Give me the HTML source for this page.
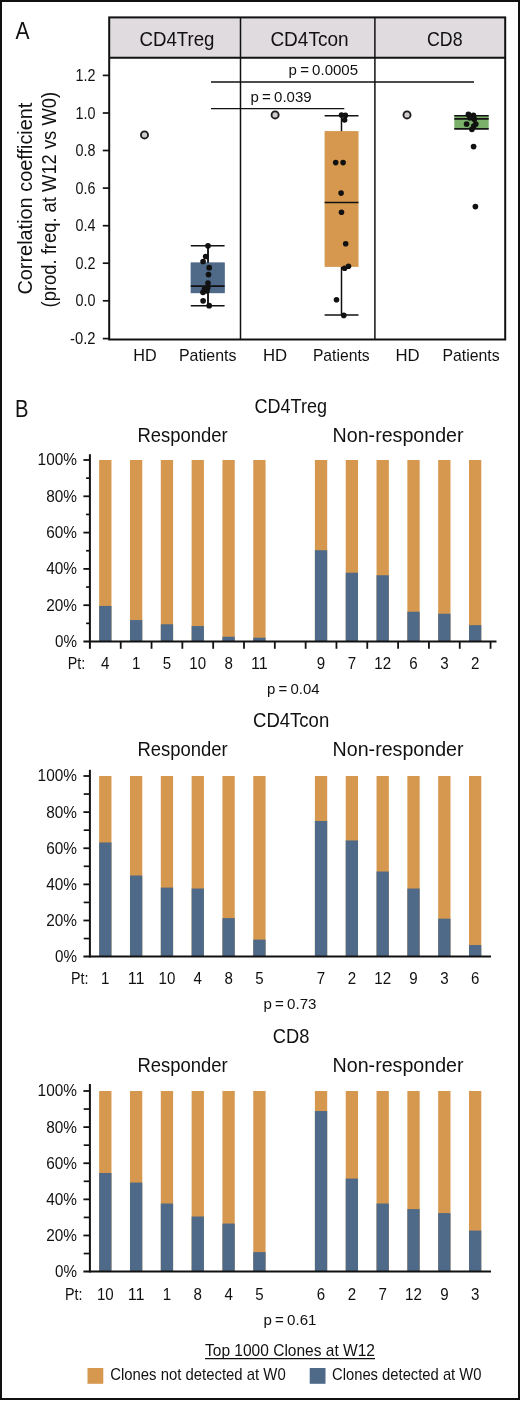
<!DOCTYPE html>
<html><head><meta charset="utf-8"><title>Figure</title>
<style>
html,body{margin:0;padding:0;background:#fff;}
svg{display:block;will-change:transform;}
text{font-family:"Liberation Sans",sans-serif;fill:#111111;}
</style></head><body>
<svg width="520" height="1401" viewBox="0 0 520 1401">
<rect x="0" y="0" width="520" height="1401" fill="#ffffff"/>
<rect x="1" y="1" width="518" height="1398" fill="none" stroke="#111111" stroke-width="2"/>
<text x="15.5" y="39" font-size="24" text-anchor="start" textLength="14" lengthAdjust="spacingAndGlyphs" >A</text>
<rect x="109.2" y="17.4" width="396" height="40.4" fill="#dfdbdf" />
<rect x="109.2" y="17.4" width="396" height="322.1" fill="none" stroke="#111111" stroke-width="2"/>
<line x1="109.2" y1="57.8" x2="505.2" y2="57.8" stroke="#111111" stroke-width="2" />
<line x1="240.5" y1="17.4" x2="240.5" y2="339.5" stroke="#111111" stroke-width="1.5" />
<line x1="374.9" y1="17.4" x2="374.9" y2="339.5" stroke="#111111" stroke-width="1.5" />
<text x="139.5" y="46.2" font-size="20.4" text-anchor="start" textLength="75" lengthAdjust="spacingAndGlyphs" >CD4Treg</text>
<text x="270.4" y="46.2" font-size="20.4" text-anchor="start" textLength="78.2" lengthAdjust="spacingAndGlyphs" >CD4Tcon</text>
<text x="427" y="46.2" font-size="20.4" text-anchor="start" textLength="35.5" lengthAdjust="spacingAndGlyphs" >CD8</text>
<line x1="102.8" y1="75.4" x2="109.2" y2="75.4" stroke="#111111" stroke-width="1.7" />
<text x="75.6" y="80.9" font-size="16.4" text-anchor="start" textLength="20" lengthAdjust="spacingAndGlyphs" >1.2</text>
<line x1="102.8" y1="113.0" x2="109.2" y2="113.0" stroke="#111111" stroke-width="1.7" />
<text x="75.6" y="118.5" font-size="16.4" text-anchor="start" textLength="20" lengthAdjust="spacingAndGlyphs" >1.0</text>
<line x1="102.8" y1="150.5" x2="109.2" y2="150.5" stroke="#111111" stroke-width="1.7" />
<text x="75.6" y="156.0" font-size="16.4" text-anchor="start" textLength="20" lengthAdjust="spacingAndGlyphs" >0.8</text>
<line x1="102.8" y1="188.1" x2="109.2" y2="188.1" stroke="#111111" stroke-width="1.7" />
<text x="75.6" y="193.6" font-size="16.4" text-anchor="start" textLength="20" lengthAdjust="spacingAndGlyphs" >0.6</text>
<line x1="102.8" y1="225.7" x2="109.2" y2="225.7" stroke="#111111" stroke-width="1.7" />
<text x="75.6" y="231.2" font-size="16.4" text-anchor="start" textLength="20" lengthAdjust="spacingAndGlyphs" >0.4</text>
<line x1="102.8" y1="263.2" x2="109.2" y2="263.2" stroke="#111111" stroke-width="1.7" />
<text x="75.6" y="268.7" font-size="16.4" text-anchor="start" textLength="20" lengthAdjust="spacingAndGlyphs" >0.2</text>
<line x1="102.8" y1="300.8" x2="109.2" y2="300.8" stroke="#111111" stroke-width="1.7" />
<text x="75.6" y="306.3" font-size="16.4" text-anchor="start" textLength="20" lengthAdjust="spacingAndGlyphs" >0.0</text>
<line x1="102.8" y1="338.6" x2="109.2" y2="338.6" stroke="#111111" stroke-width="1.7" />
<text x="70.1" y="344.1" font-size="16.4" text-anchor="start" textLength="25.5" lengthAdjust="spacingAndGlyphs" >-0.2</text>
<text transform="translate(32.4,294.6) rotate(-90)" font-size="20.3" textLength="192" lengthAdjust="spacingAndGlyphs">Correlation coefficient</text>
<text transform="translate(56.1,307.4) rotate(-90)" font-size="20.3" textLength="215.5" lengthAdjust="spacingAndGlyphs">(prod. freq. at W12 vs W0)</text>
<text x="133.2" y="360.7" font-size="16.4" text-anchor="start" textLength="23.4" lengthAdjust="spacingAndGlyphs" >HD</text>
<text x="178.9" y="360.7" font-size="16.4" text-anchor="start" textLength="57.6" lengthAdjust="spacingAndGlyphs" >Patients</text>
<text x="262.9" y="360.7" font-size="16.4" text-anchor="start" textLength="24.2" lengthAdjust="spacingAndGlyphs" >HD</text>
<text x="312.9" y="360.7" font-size="16.4" text-anchor="start" textLength="56.7" lengthAdjust="spacingAndGlyphs" >Patients</text>
<text x="395.4" y="360.7" font-size="16.4" text-anchor="start" textLength="24.2" lengthAdjust="spacingAndGlyphs" >HD</text>
<text x="442.4" y="360.7" font-size="16.4" text-anchor="start" textLength="57.2" lengthAdjust="spacingAndGlyphs" >Patients</text>
<line x1="211" y1="82" x2="474" y2="82" stroke="#111111" stroke-width="1.3" />
<line x1="211" y1="108.7" x2="344.3" y2="108.7" stroke="#111111" stroke-width="1.3" />
<text x="288.6" y="75.2" font-size="15.2" text-anchor="start" textLength="69.5" lengthAdjust="spacingAndGlyphs" word-spacing="-1">p = 0.0005</text>
<text x="250.6" y="101.7" font-size="15.2" text-anchor="start" textLength="61" lengthAdjust="spacingAndGlyphs" word-spacing="-1">p = 0.039</text>
<circle cx="144.5" cy="134.9" r="3.55" fill="#cfcbcf" stroke="#1c1c1c" stroke-width="1.85"/>
<circle cx="275.1" cy="114.9" r="3.55" fill="#cfcbcf" stroke="#1c1c1c" stroke-width="1.85"/>
<circle cx="407" cy="114.9" r="3.55" fill="#cfcbcf" stroke="#1c1c1c" stroke-width="1.85"/>
<rect x="190.8" y="262.6" width="33.8" height="30.5" fill="#4e6a88" />
<line x1="208" y1="245.8" x2="208" y2="305.7" stroke="#111111" stroke-width="1.5" />
<line x1="190.8" y1="245.8" x2="224.6" y2="245.8" stroke="#111111" stroke-width="1.5" />
<line x1="190.8" y1="305.7" x2="224.6" y2="305.7" stroke="#111111" stroke-width="1.5" />
<rect x="190.8" y="262.6" width="33.8" height="30.5" fill="#4e6a88" />
<line x1="208" y1="245.8" x2="208" y2="262.6" stroke="#111111" stroke-width="1.5" />
<line x1="208" y1="293.1" x2="208" y2="305.7" stroke="#111111" stroke-width="1.5" />
<line x1="190.8" y1="286.2" x2="224.6" y2="286.2" stroke="#111111" stroke-width="1.8" />
<circle cx="208" cy="245.8" r="2.85" fill="#111111" />
<circle cx="205.7" cy="256.5" r="2.85" fill="#111111" />
<circle cx="203.1" cy="261.5" r="2.85" fill="#111111" />
<circle cx="209.2" cy="267.7" r="2.85" fill="#111111" />
<circle cx="208.5" cy="274.6" r="2.85" fill="#111111" />
<circle cx="208" cy="283.1" r="2.85" fill="#111111" />
<circle cx="207.7" cy="287.7" r="2.85" fill="#111111" />
<circle cx="204.6" cy="289.2" r="2.85" fill="#111111" />
<circle cx="203" cy="292.3" r="2.85" fill="#111111" />
<circle cx="207" cy="290.8" r="2.85" fill="#111111" />
<circle cx="203.1" cy="300.8" r="2.85" fill="#111111" />
<circle cx="209.2" cy="305.7" r="2.85" fill="#111111" />
<line x1="341.5" y1="115.8" x2="341.5" y2="315.1" stroke="#111111" stroke-width="1.5" />
<line x1="324.6" y1="115.8" x2="358.5" y2="115.8" stroke="#111111" stroke-width="1.5" />
<line x1="324.6" y1="315.1" x2="358.5" y2="315.1" stroke="#111111" stroke-width="1.5" />
<rect x="324.6" y="131.1" width="33.9" height="135.8" fill="#d6984f" />
<line x1="324.6" y1="202.6" x2="358.5" y2="202.6" stroke="#111111" stroke-width="1.5" />
<circle cx="341.5" cy="115.1" r="2.8" fill="#111111" />
<circle cx="345.4" cy="115.4" r="2.8" fill="#111111" />
<circle cx="344.6" cy="120" r="2.8" fill="#111111" />
<circle cx="335.7" cy="162.6" r="2.8" fill="#111111" />
<circle cx="343.1" cy="162.6" r="2.8" fill="#111111" />
<circle cx="341.1" cy="193.1" r="2.8" fill="#111111" />
<circle cx="341.5" cy="212.3" r="2.8" fill="#111111" />
<circle cx="345.7" cy="243.8" r="2.8" fill="#111111" />
<circle cx="344.6" cy="268.2" r="2.8" fill="#111111" />
<circle cx="348.5" cy="266.2" r="2.8" fill="#111111" />
<circle cx="336.5" cy="299.7" r="2.8" fill="#111111" />
<circle cx="343.8" cy="315.4" r="2.8" fill="#111111" />
<rect x="454.3" y="115.4" width="34.4" height="13.6" fill="#7ab06a" />
<line x1="454.3" y1="115.8" x2="488.7" y2="115.8" stroke="#111111" stroke-width="1.6" />
<line x1="454.3" y1="118.9" x2="488.7" y2="118.9" stroke="#111111" stroke-width="1.6" />
<line x1="454.3" y1="128.9" x2="488.7" y2="128.9" stroke="#111111" stroke-width="1.6" />
<circle cx="468.4" cy="114.4" r="2.85" fill="#111111" />
<circle cx="473.4" cy="115.4" r="2.85" fill="#111111" />
<circle cx="470" cy="117.8" r="2.85" fill="#111111" />
<circle cx="474.3" cy="119.2" r="2.85" fill="#111111" />
<circle cx="466.6" cy="124" r="2.85" fill="#111111" />
<circle cx="475.8" cy="124" r="2.85" fill="#111111" />
<circle cx="473.8" cy="126" r="2.85" fill="#111111" />
<circle cx="471.9" cy="129.3" r="2.85" fill="#111111" />
<circle cx="473.6" cy="146.6" r="2.85" fill="#111111" />
<circle cx="475.4" cy="206.6" r="2.85" fill="#111111" />
<text x="15" y="416.8" font-size="24" text-anchor="start" textLength="13.5" lengthAdjust="spacingAndGlyphs" >B</text>
<text x="254.6" y="412.7" font-size="20.2" text-anchor="start" textLength="72.4" lengthAdjust="spacingAndGlyphs" >CD4Treg</text>
<text x="137.4" y="442.4" font-size="20.2" text-anchor="start" textLength="90.3" lengthAdjust="spacingAndGlyphs" >Responder</text>
<text x="332.6" y="442.4" font-size="20.2" text-anchor="start" textLength="131" lengthAdjust="spacingAndGlyphs" >Non-responder</text>
<rect x="99.16" y="460" width="12.3" height="181.5" fill="#d6984f" />
<rect x="99.16" y="605.93" width="12.3" height="35.57" fill="#4e6a88" />
<text x="101.11" y="669.2" font-size="16.4" text-anchor="start" textLength="8.4" lengthAdjust="spacingAndGlyphs" >4</text>
<rect x="129.98" y="460" width="12.3" height="181.5" fill="#d6984f" />
<rect x="129.98" y="620.08" width="12.3" height="21.42" fill="#4e6a88" />
<text x="131.93" y="669.2" font-size="16.4" text-anchor="start" textLength="8.4" lengthAdjust="spacingAndGlyphs" >1</text>
<rect x="160.8" y="460" width="12.3" height="181.5" fill="#d6984f" />
<rect x="160.8" y="624.26" width="12.3" height="17.24" fill="#4e6a88" />
<text x="162.75" y="669.2" font-size="16.4" text-anchor="start" textLength="8.4" lengthAdjust="spacingAndGlyphs" >5</text>
<rect x="191.62" y="460" width="12.3" height="181.5" fill="#d6984f" />
<rect x="191.62" y="626.07" width="12.3" height="15.43" fill="#4e6a88" />
<text x="189.37" y="669.2" font-size="16.4" text-anchor="start" textLength="16.8" lengthAdjust="spacingAndGlyphs" >10</text>
<rect x="222.44" y="460" width="12.3" height="181.5" fill="#d6984f" />
<rect x="222.44" y="636.78" width="12.3" height="4.72" fill="#4e6a88" />
<text x="224.39" y="669.2" font-size="16.4" text-anchor="start" textLength="8.4" lengthAdjust="spacingAndGlyphs" >8</text>
<rect x="253.26" y="460" width="12.3" height="181.5" fill="#d6984f" />
<rect x="253.26" y="637.69" width="12.3" height="3.81" fill="#4e6a88" />
<text x="251.01" y="669.2" font-size="16.4" text-anchor="start" textLength="16.8" lengthAdjust="spacingAndGlyphs" >11</text>
<rect x="314.9" y="460" width="12.3" height="181.5" fill="#d6984f" />
<rect x="314.9" y="550.21" width="12.3" height="91.29" fill="#4e6a88" />
<text x="316.85" y="669.2" font-size="16.4" text-anchor="start" textLength="8.4" lengthAdjust="spacingAndGlyphs" >9</text>
<rect x="345.72" y="460" width="12.3" height="181.5" fill="#d6984f" />
<rect x="345.72" y="572.71" width="12.3" height="68.79" fill="#4e6a88" />
<text x="347.67" y="669.2" font-size="16.4" text-anchor="start" textLength="8.4" lengthAdjust="spacingAndGlyphs" >7</text>
<rect x="376.54" y="460" width="12.3" height="181.5" fill="#d6984f" />
<rect x="376.54" y="575.25" width="12.3" height="66.25" fill="#4e6a88" />
<text x="374.29" y="669.2" font-size="16.4" text-anchor="start" textLength="16.8" lengthAdjust="spacingAndGlyphs" >12</text>
<rect x="407.36" y="460" width="12.3" height="181.5" fill="#d6984f" />
<rect x="407.36" y="611.73" width="12.3" height="29.77" fill="#4e6a88" />
<text x="409.31" y="669.2" font-size="16.4" text-anchor="start" textLength="8.4" lengthAdjust="spacingAndGlyphs" >6</text>
<rect x="438.18" y="460" width="12.3" height="181.5" fill="#d6984f" />
<rect x="438.18" y="613.73" width="12.3" height="27.77" fill="#4e6a88" />
<text x="440.13" y="669.2" font-size="16.4" text-anchor="start" textLength="8.4" lengthAdjust="spacingAndGlyphs" >3</text>
<rect x="469.0" y="460" width="12.3" height="181.5" fill="#d6984f" />
<rect x="469.0" y="625.16" width="12.3" height="16.34" fill="#4e6a88" />
<text x="470.95" y="669.2" font-size="16.4" text-anchor="start" textLength="8.4" lengthAdjust="spacingAndGlyphs" >2</text>
<line x1="89.9" y1="454.2" x2="89.9" y2="648.8" stroke="#111111" stroke-width="2.0" />
<line x1="83.4" y1="641.5" x2="496.5" y2="641.5" stroke="#111111" stroke-width="2.0" />
<line x1="86.10000000000001" y1="623.35" x2="89.9" y2="623.35" stroke="#111111" stroke-width="1.7" />
<line x1="83.4" y1="605.2" x2="89.9" y2="605.2" stroke="#111111" stroke-width="1.8" />
<line x1="86.10000000000001" y1="587.05" x2="89.9" y2="587.05" stroke="#111111" stroke-width="1.7" />
<line x1="83.4" y1="568.9" x2="89.9" y2="568.9" stroke="#111111" stroke-width="1.8" />
<line x1="86.10000000000001" y1="550.75" x2="89.9" y2="550.75" stroke="#111111" stroke-width="1.7" />
<line x1="83.4" y1="532.6" x2="89.9" y2="532.6" stroke="#111111" stroke-width="1.8" />
<line x1="86.10000000000001" y1="514.45" x2="89.9" y2="514.45" stroke="#111111" stroke-width="1.7" />
<line x1="83.4" y1="496.3" x2="89.9" y2="496.3" stroke="#111111" stroke-width="1.8" />
<line x1="86.10000000000001" y1="478.15" x2="89.9" y2="478.15" stroke="#111111" stroke-width="1.7" />
<line x1="83.4" y1="460.0" x2="89.9" y2="460.0" stroke="#111111" stroke-width="1.8" />
<text x="55" y="646.9" font-size="16.4" text-anchor="start" textLength="22" lengthAdjust="spacingAndGlyphs" >0%</text>
<text x="46.2" y="610.6" font-size="16.4" text-anchor="start" textLength="30.8" lengthAdjust="spacingAndGlyphs" >20%</text>
<text x="46.2" y="574.3" font-size="16.4" text-anchor="start" textLength="30.8" lengthAdjust="spacingAndGlyphs" >40%</text>
<text x="46.2" y="538.0" font-size="16.4" text-anchor="start" textLength="30.8" lengthAdjust="spacingAndGlyphs" >60%</text>
<text x="46.2" y="501.7" font-size="16.4" text-anchor="start" textLength="30.8" lengthAdjust="spacingAndGlyphs" >80%</text>
<text x="37.6" y="465.4" font-size="16.4" text-anchor="start" textLength="39.4" lengthAdjust="spacingAndGlyphs" >100%</text>
<line x1="120.72" y1="641.5" x2="120.72" y2="648.8" stroke="#111111" stroke-width="1.8" />
<line x1="151.54" y1="641.5" x2="151.54" y2="648.8" stroke="#111111" stroke-width="1.8" />
<line x1="182.36" y1="641.5" x2="182.36" y2="648.8" stroke="#111111" stroke-width="1.8" />
<line x1="213.18" y1="641.5" x2="213.18" y2="648.8" stroke="#111111" stroke-width="1.8" />
<line x1="244.0" y1="641.5" x2="244.0" y2="648.8" stroke="#111111" stroke-width="1.8" />
<line x1="274.82" y1="641.5" x2="274.82" y2="648.8" stroke="#111111" stroke-width="1.8" />
<line x1="305.64" y1="641.5" x2="305.64" y2="648.8" stroke="#111111" stroke-width="1.8" />
<line x1="336.46" y1="641.5" x2="336.46" y2="648.8" stroke="#111111" stroke-width="1.8" />
<line x1="367.28" y1="641.5" x2="367.28" y2="648.8" stroke="#111111" stroke-width="1.8" />
<line x1="398.1" y1="641.5" x2="398.1" y2="648.8" stroke="#111111" stroke-width="1.8" />
<line x1="428.92" y1="641.5" x2="428.92" y2="648.8" stroke="#111111" stroke-width="1.8" />
<line x1="459.74" y1="641.5" x2="459.74" y2="648.8" stroke="#111111" stroke-width="1.8" />
<line x1="490.56" y1="641.5" x2="490.56" y2="648.8" stroke="#111111" stroke-width="1.8" />
<text x="67.7" y="669.2" font-size="16.4" text-anchor="start" textLength="17.5" lengthAdjust="spacingAndGlyphs" >Pt:</text>
<text x="267" y="694.4" font-size="15.2" text-anchor="start" textLength="52.6" lengthAdjust="spacingAndGlyphs" word-spacing="-1">p = 0.04</text>
<text x="253" y="726.7" font-size="20.2" text-anchor="start" textLength="76.2" lengthAdjust="spacingAndGlyphs" >CD4Tcon</text>
<text x="137.4" y="756.4" font-size="20.2" text-anchor="start" textLength="90.3" lengthAdjust="spacingAndGlyphs" >Responder</text>
<text x="332.6" y="756.4" font-size="20.2" text-anchor="start" textLength="131" lengthAdjust="spacingAndGlyphs" >Non-responder</text>
<rect x="99.16" y="776" width="12.3" height="180.6" fill="#d6984f" />
<rect x="99.16" y="842.46" width="12.3" height="114.14" fill="#4e6a88" />
<text x="101.11" y="984" font-size="16.4" text-anchor="start" textLength="8.4" lengthAdjust="spacingAndGlyphs" >1</text>
<rect x="129.98" y="776" width="12.3" height="180.6" fill="#d6984f" />
<rect x="129.98" y="875.51" width="12.3" height="81.09" fill="#4e6a88" />
<text x="127.73" y="984" font-size="16.4" text-anchor="start" textLength="16.8" lengthAdjust="spacingAndGlyphs" >11</text>
<rect x="160.8" y="776" width="12.3" height="180.6" fill="#d6984f" />
<rect x="160.8" y="887.61" width="12.3" height="68.99" fill="#4e6a88" />
<text x="158.55" y="984" font-size="16.4" text-anchor="start" textLength="16.8" lengthAdjust="spacingAndGlyphs" >10</text>
<rect x="191.62" y="776" width="12.3" height="180.6" fill="#d6984f" />
<rect x="191.62" y="888.51" width="12.3" height="68.09" fill="#4e6a88" />
<text x="193.57" y="984" font-size="16.4" text-anchor="start" textLength="8.4" lengthAdjust="spacingAndGlyphs" >4</text>
<rect x="222.44" y="776" width="12.3" height="180.6" fill="#d6984f" />
<rect x="222.44" y="918.13" width="12.3" height="38.47" fill="#4e6a88" />
<text x="224.39" y="984" font-size="16.4" text-anchor="start" textLength="8.4" lengthAdjust="spacingAndGlyphs" >8</text>
<rect x="253.26" y="776" width="12.3" height="180.6" fill="#d6984f" />
<rect x="253.26" y="939.62" width="12.3" height="16.98" fill="#4e6a88" />
<text x="255.21" y="984" font-size="16.4" text-anchor="start" textLength="8.4" lengthAdjust="spacingAndGlyphs" >5</text>
<rect x="314.9" y="776" width="12.3" height="180.6" fill="#d6984f" />
<rect x="314.9" y="820.97" width="12.3" height="135.63" fill="#4e6a88" />
<text x="316.85" y="984" font-size="16.4" text-anchor="start" textLength="8.4" lengthAdjust="spacingAndGlyphs" >7</text>
<rect x="345.72" y="776" width="12.3" height="180.6" fill="#d6984f" />
<rect x="345.72" y="840.47" width="12.3" height="116.13" fill="#4e6a88" />
<text x="347.67" y="984" font-size="16.4" text-anchor="start" textLength="8.4" lengthAdjust="spacingAndGlyphs" >2</text>
<rect x="376.54" y="776" width="12.3" height="180.6" fill="#d6984f" />
<rect x="376.54" y="871.54" width="12.3" height="85.06" fill="#4e6a88" />
<text x="374.29" y="984" font-size="16.4" text-anchor="start" textLength="16.8" lengthAdjust="spacingAndGlyphs" >12</text>
<rect x="407.36" y="776" width="12.3" height="180.6" fill="#d6984f" />
<rect x="407.36" y="888.51" width="12.3" height="68.09" fill="#4e6a88" />
<text x="409.31" y="984" font-size="16.4" text-anchor="start" textLength="8.4" lengthAdjust="spacingAndGlyphs" >9</text>
<rect x="438.18" y="776" width="12.3" height="180.6" fill="#d6984f" />
<rect x="438.18" y="918.67" width="12.3" height="37.93" fill="#4e6a88" />
<text x="440.13" y="984" font-size="16.4" text-anchor="start" textLength="8.4" lengthAdjust="spacingAndGlyphs" >3</text>
<rect x="469.0" y="776" width="12.3" height="180.6" fill="#d6984f" />
<rect x="469.0" y="945.04" width="12.3" height="11.56" fill="#4e6a88" />
<text x="470.95" y="984" font-size="16.4" text-anchor="start" textLength="8.4" lengthAdjust="spacingAndGlyphs" >6</text>
<line x1="89.9" y1="769.8" x2="89.9" y2="957.5" stroke="#111111" stroke-width="2.0" />
<line x1="83.4" y1="956.6" x2="491" y2="956.6" stroke="#111111" stroke-width="2.0" />
<line x1="83.7" y1="938.54" x2="89.9" y2="938.54" stroke="#111111" stroke-width="1.7" />
<line x1="83.4" y1="920.48" x2="89.9" y2="920.48" stroke="#111111" stroke-width="1.8" />
<line x1="83.7" y1="902.4200000000001" x2="89.9" y2="902.4200000000001" stroke="#111111" stroke-width="1.7" />
<line x1="83.4" y1="884.36" x2="89.9" y2="884.36" stroke="#111111" stroke-width="1.8" />
<line x1="83.7" y1="866.3" x2="89.9" y2="866.3" stroke="#111111" stroke-width="1.7" />
<line x1="83.4" y1="848.24" x2="89.9" y2="848.24" stroke="#111111" stroke-width="1.8" />
<line x1="83.7" y1="830.18" x2="89.9" y2="830.18" stroke="#111111" stroke-width="1.7" />
<line x1="83.4" y1="812.12" x2="89.9" y2="812.12" stroke="#111111" stroke-width="1.8" />
<line x1="83.7" y1="794.06" x2="89.9" y2="794.06" stroke="#111111" stroke-width="1.7" />
<line x1="83.4" y1="776.0" x2="89.9" y2="776.0" stroke="#111111" stroke-width="1.8" />
<text x="55" y="962.0" font-size="16.4" text-anchor="start" textLength="22" lengthAdjust="spacingAndGlyphs" >0%</text>
<text x="46.2" y="925.88" font-size="16.4" text-anchor="start" textLength="30.8" lengthAdjust="spacingAndGlyphs" >20%</text>
<text x="46.2" y="889.76" font-size="16.4" text-anchor="start" textLength="30.8" lengthAdjust="spacingAndGlyphs" >40%</text>
<text x="46.2" y="853.64" font-size="16.4" text-anchor="start" textLength="30.8" lengthAdjust="spacingAndGlyphs" >60%</text>
<text x="46.2" y="817.52" font-size="16.4" text-anchor="start" textLength="30.8" lengthAdjust="spacingAndGlyphs" >80%</text>
<text x="37.6" y="781.4" font-size="16.4" text-anchor="start" textLength="39.4" lengthAdjust="spacingAndGlyphs" >100%</text>
<text x="71" y="984" font-size="16.4" text-anchor="start" textLength="17.5" lengthAdjust="spacingAndGlyphs" >Pt:</text>
<text x="263.5" y="1008.9" font-size="15.2" text-anchor="start" textLength="53" lengthAdjust="spacingAndGlyphs" word-spacing="-1">p = 0.73</text>
<text x="272.8" y="1042.7" font-size="20.2" text-anchor="start" textLength="36.6" lengthAdjust="spacingAndGlyphs" >CD8</text>
<text x="137.4" y="1072.4" font-size="20.2" text-anchor="start" textLength="90.3" lengthAdjust="spacingAndGlyphs" >Responder</text>
<text x="332.6" y="1072.4" font-size="20.2" text-anchor="start" textLength="131" lengthAdjust="spacingAndGlyphs" >Non-responder</text>
<rect x="99.16" y="1091" width="12.3" height="180.6" fill="#d6984f" />
<rect x="99.16" y="1172.99" width="12.3" height="98.61" fill="#4e6a88" />
<text x="96.91" y="1299.5" font-size="16.4" text-anchor="start" textLength="16.8" lengthAdjust="spacingAndGlyphs" >10</text>
<rect x="129.98" y="1091" width="12.3" height="180.6" fill="#d6984f" />
<rect x="129.98" y="1182.56" width="12.3" height="89.04" fill="#4e6a88" />
<text x="127.73" y="1299.5" font-size="16.4" text-anchor="start" textLength="16.8" lengthAdjust="spacingAndGlyphs" >11</text>
<rect x="160.8" y="1091" width="12.3" height="180.6" fill="#d6984f" />
<rect x="160.8" y="1203.51" width="12.3" height="68.09" fill="#4e6a88" />
<text x="162.75" y="1299.5" font-size="16.4" text-anchor="start" textLength="8.4" lengthAdjust="spacingAndGlyphs" >1</text>
<rect x="191.62" y="1091" width="12.3" height="180.6" fill="#d6984f" />
<rect x="191.62" y="1216.52" width="12.3" height="55.08" fill="#4e6a88" />
<text x="193.57" y="1299.5" font-size="16.4" text-anchor="start" textLength="8.4" lengthAdjust="spacingAndGlyphs" >8</text>
<rect x="222.44" y="1091" width="12.3" height="180.6" fill="#d6984f" />
<rect x="222.44" y="1223.56" width="12.3" height="48.04" fill="#4e6a88" />
<text x="224.39" y="1299.5" font-size="16.4" text-anchor="start" textLength="8.4" lengthAdjust="spacingAndGlyphs" >4</text>
<rect x="253.26" y="1091" width="12.3" height="180.6" fill="#d6984f" />
<rect x="253.26" y="1252.1" width="12.3" height="19.5" fill="#4e6a88" />
<text x="255.21" y="1299.5" font-size="16.4" text-anchor="start" textLength="8.4" lengthAdjust="spacingAndGlyphs" >5</text>
<rect x="314.9" y="1091" width="12.3" height="180.6" fill="#d6984f" />
<rect x="314.9" y="1111.05" width="12.3" height="160.55" fill="#4e6a88" />
<text x="316.85" y="1299.5" font-size="16.4" text-anchor="start" textLength="8.4" lengthAdjust="spacingAndGlyphs" >6</text>
<rect x="345.72" y="1091" width="12.3" height="180.6" fill="#d6984f" />
<rect x="345.72" y="1178.59" width="12.3" height="93.01" fill="#4e6a88" />
<text x="347.67" y="1299.5" font-size="16.4" text-anchor="start" textLength="8.4" lengthAdjust="spacingAndGlyphs" >2</text>
<rect x="376.54" y="1091" width="12.3" height="180.6" fill="#d6984f" />
<rect x="376.54" y="1203.51" width="12.3" height="68.09" fill="#4e6a88" />
<text x="378.49" y="1299.5" font-size="16.4" text-anchor="start" textLength="8.4" lengthAdjust="spacingAndGlyphs" >7</text>
<rect x="407.36" y="1091" width="12.3" height="180.6" fill="#d6984f" />
<rect x="407.36" y="1209.11" width="12.3" height="62.49" fill="#4e6a88" />
<text x="405.11" y="1299.5" font-size="16.4" text-anchor="start" textLength="16.8" lengthAdjust="spacingAndGlyphs" >12</text>
<rect x="438.18" y="1091" width="12.3" height="180.6" fill="#d6984f" />
<rect x="438.18" y="1213.09" width="12.3" height="58.51" fill="#4e6a88" />
<text x="440.13" y="1299.5" font-size="16.4" text-anchor="start" textLength="8.4" lengthAdjust="spacingAndGlyphs" >9</text>
<rect x="469.0" y="1091" width="12.3" height="180.6" fill="#d6984f" />
<rect x="469.0" y="1230.6" width="12.3" height="41.0" fill="#4e6a88" />
<text x="470.95" y="1299.5" font-size="16.4" text-anchor="start" textLength="8.4" lengthAdjust="spacingAndGlyphs" >3</text>
<line x1="89.9" y1="1084" x2="89.9" y2="1272.5" stroke="#111111" stroke-width="2.0" />
<line x1="83.4" y1="1271.6" x2="491" y2="1271.6" stroke="#111111" stroke-width="2.0" />
<line x1="83.7" y1="1253.54" x2="89.9" y2="1253.54" stroke="#111111" stroke-width="1.7" />
<line x1="83.4" y1="1235.48" x2="89.9" y2="1235.48" stroke="#111111" stroke-width="1.8" />
<line x1="83.7" y1="1217.4199999999998" x2="89.9" y2="1217.4199999999998" stroke="#111111" stroke-width="1.7" />
<line x1="83.4" y1="1199.36" x2="89.9" y2="1199.36" stroke="#111111" stroke-width="1.8" />
<line x1="83.7" y1="1181.3" x2="89.9" y2="1181.3" stroke="#111111" stroke-width="1.7" />
<line x1="83.4" y1="1163.24" x2="89.9" y2="1163.24" stroke="#111111" stroke-width="1.8" />
<line x1="83.7" y1="1145.18" x2="89.9" y2="1145.18" stroke="#111111" stroke-width="1.7" />
<line x1="83.4" y1="1127.12" x2="89.9" y2="1127.12" stroke="#111111" stroke-width="1.8" />
<line x1="83.7" y1="1109.06" x2="89.9" y2="1109.06" stroke="#111111" stroke-width="1.7" />
<line x1="83.4" y1="1091.0" x2="89.9" y2="1091.0" stroke="#111111" stroke-width="1.8" />
<text x="55" y="1277.0" font-size="16.4" text-anchor="start" textLength="22" lengthAdjust="spacingAndGlyphs" >0%</text>
<text x="46.2" y="1240.88" font-size="16.4" text-anchor="start" textLength="30.8" lengthAdjust="spacingAndGlyphs" >20%</text>
<text x="46.2" y="1204.76" font-size="16.4" text-anchor="start" textLength="30.8" lengthAdjust="spacingAndGlyphs" >40%</text>
<text x="46.2" y="1168.64" font-size="16.4" text-anchor="start" textLength="30.8" lengthAdjust="spacingAndGlyphs" >60%</text>
<text x="46.2" y="1132.52" font-size="16.4" text-anchor="start" textLength="30.8" lengthAdjust="spacingAndGlyphs" >80%</text>
<text x="37.6" y="1096.4" font-size="16.4" text-anchor="start" textLength="39.4" lengthAdjust="spacingAndGlyphs" >100%</text>
<text x="65" y="1299.5" font-size="16.4" text-anchor="start" textLength="17.5" lengthAdjust="spacingAndGlyphs" >Pt:</text>
<text x="263.5" y="1324.5" font-size="15.2" text-anchor="start" textLength="53" lengthAdjust="spacingAndGlyphs" word-spacing="-1">p = 0.61</text>
<text x="205" y="1355.6" font-size="16.2" text-anchor="start" textLength="170" lengthAdjust="spacingAndGlyphs" >Top 1000 Clones at W12</text>
<line x1="205" y1="1358.6" x2="375" y2="1358.6" stroke="#111111" stroke-width="1.1" />
<rect x="87.5" y="1368" width="15.8" height="15.8" fill="#d6984f" />
<rect x="309.7" y="1368" width="15.8" height="15.8" fill="#4e6a88" />
<text x="110.2" y="1380.4" font-size="16.4" text-anchor="start" textLength="175.5" lengthAdjust="spacingAndGlyphs" >Clones not detected at W0</text>
<text x="332" y="1380.4" font-size="16.4" text-anchor="start" textLength="149.5" lengthAdjust="spacingAndGlyphs" >Clones detected at W0</text>
</svg>
</body></html>
